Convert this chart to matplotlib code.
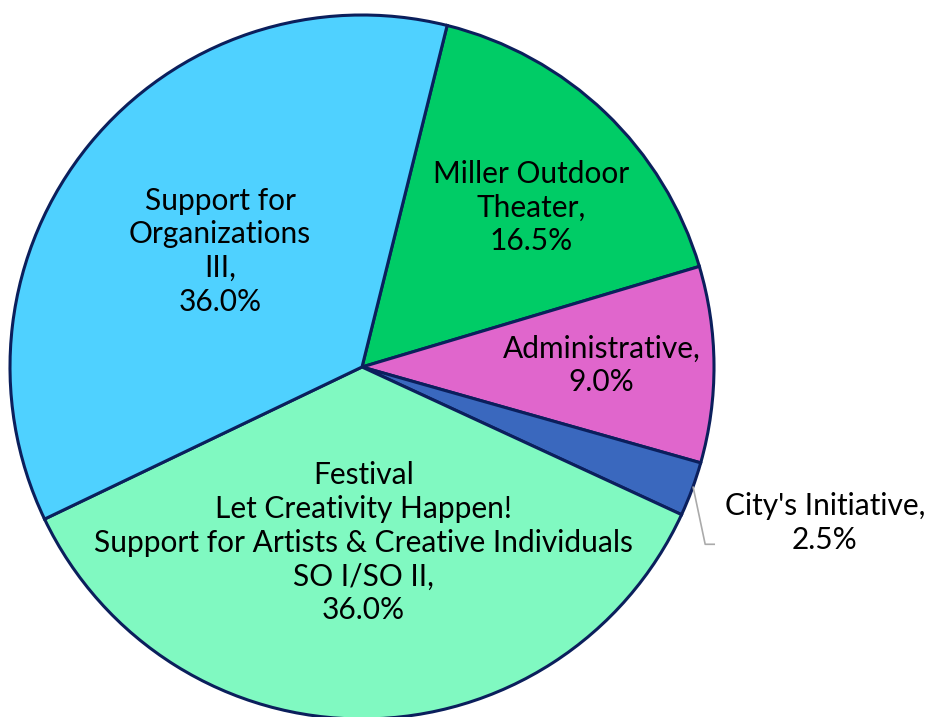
import numpy as np
import matplotlib.pyplot as plt

labels = ["Miller Outdoor\nTheater", "Administrative", "City's Initiative",
          "Festival\nLet Creativity Happen!\nSupport for Artists & Creative Individuals\nSO I/SO II",
          "Support for\nOrganizations\nIII"]
shares = [16.5, 9.0, 2.5, 36.0, 36.0]
colors = ["#00CC66", "#E066CC", "#3A68BE", "#80F9C1", "#4FD1FF"]

plt.rcParams['font.family'] = ['Lato', 'DejaVu Sans']

fig = plt.figure(figsize=(9.27, 7.17), dpi=100)
ax = fig.add_axes([0, 0, 1, 1])

cx, cy, r = 362, 350, 352
wedges, _ = ax.pie(shares, colors=colors, startangle=76, counterclock=False,
                   center=(cx, cy), radius=r,
                   wedgeprops=dict(edgecolor="#0B1F5C", linewidth=2.2))

# pie() resets the limits, so set pixel-sized limits afterwards
ax.set_xlim(0, 927)
ax.set_ylim(0, 717)
ax.set_aspect('equal')
ax.axis('off')

# label placement inside each wedge: (fraction of radius, angle tweak in degrees)
placement = [(0.66, -3), (0.68, 0), None, (0.50, 0), (0.52, 0)]

fs = 21.5
for w, lab, val, pl in zip(wedges, labels, shares, placement):
    mid = (w.theta1 + w.theta2) / 2
    text = f"{lab},\n{val:.1f}%"
    if pl is None:
        # small slice: label outside with a leader line
        a = np.deg2rad(mid)
        x0, y0 = cx + r * 0.985 * np.cos(a), cy + r * 0.985 * np.sin(a)
        ax.plot([x0 + 6, x0 + 18, x0 + 27], [y0, y0 - 57, y0 - 57],
                color="#AAAAAA", lw=1.2)
        ax.text(825, cy - 156, text, ha="center", va="center", fontsize=fs,
                linespacing=1.25)
        continue
    d, tweak = pl
    a = np.deg2rad(mid + tweak)
    ax.text(cx + r * d * np.cos(a), cy + r * d * np.sin(a), text,
            ha="center", va="center", fontsize=fs, linespacing=1.25)

fig.savefig("out.png", dpi=100)
